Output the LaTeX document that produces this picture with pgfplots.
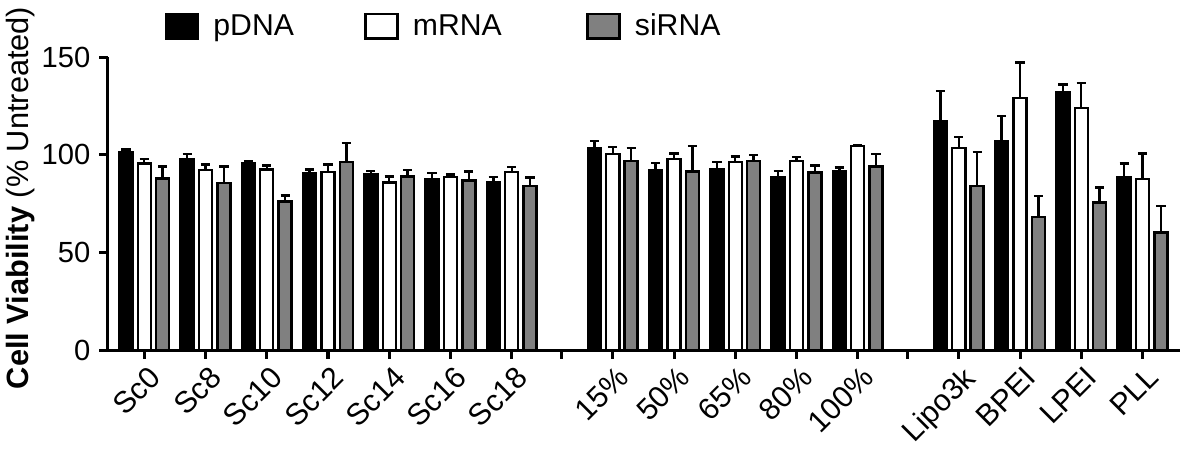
\documentclass[border=0pt]{standalone}
\usepackage{fontspec}
\setmainfont{Liberation Sans}
\usepackage{pgfplots}
\usepackage{pgfplotstable}
\pgfplotsset{compat=1.18}

\definecolor{sigray}{RGB}{128,128,128}

% x: category position, y: mean viability, e: error (SD, up only)
\pgfplotstableread{
x     y      e
0     101.3  1.4
1     97.9   2.7
2     95.7   1.3
3     90.7   1.9
4     90.0   1.9
5     87.8   2.9
6     86.1   2.7
7.65  103.5  3.6
8.65  92.2   3.6
9.65  92.6   3.9
10.65 88.8   2.9
11.65 91.5   2.1
13.3  117.2  15.4
14.3  106.9  12.9
15.3  131.8  4.2
16.3  88.5   7.0
}\pdna
\pgfplotstableread{
x     y      e
0     95.5   2.5
1     92.2   2.8
2     92.6   2.0
3     91.2   3.8
4     85.9   3.1
5     88.8   1.2
6     91.4   2.4
7.65  100.6  3.3
8.65  97.9   2.9
9.65  96.3   2.8
10.65 96.9   2.0
11.65 104.4  0.5
13.3  103.4  5.6
14.3  129.2  18.0
15.3  123.9  12.8
16.3  87.8   13.0
}\mrna
\pgfplotstableread{
x     y      e
0     88.0   6.1
1     85.6   8.5
2     76.1   3.1
3     96.3   9.8
4     89.0   3.2
5     86.9   4.6
6     84.2   4.3
7.65  97.0   6.5
8.65  91.5   12.9
9.65  97.0   2.9
10.65 91.0   3.6
11.65 94.1   6.3
13.3  84.0   17.6
14.3  68.3   10.8
15.3  75.6   7.7
16.3  60.4   13.5
}\sirna

\begin{document}
\begin{tikzpicture}
\begin{axis}[
    ybar,
    scale only axis,
    width=533.5pt, height=146pt,
    xmin=-0.6, xmax=16.92,
    ymin=0, ymax=150,
    ytick={0,50,100,150},
    xtick={0,1,2,3,4,5,6,7.65,8.65,9.65,10.65,11.65,13.3,14.3,15.3,16.3},
    xticklabels={Sc0,Sc8,Sc10,Sc12,Sc14,Sc16,Sc18,15\%,50\%,65\%,80\%,100\%,Lipo3k,BPEI,LPEI,PLL},
    extra x ticks={6.82,12.47},
    extra x tick labels={},
    axis x line*=bottom,
    axis y line*=left,
    axis line style={line width=1.5pt},
    tick style={line width=1.5pt, black},
    tick align=outside,
    major tick length=4pt,
    /pgf/number format/assume math mode=true,
    yticklabel style={font=\fontsize{14.5}{17}\selectfont, xshift=-1pt},
    xticklabel style={font=\fontsize{15}{17}\selectfont, rotate=45, anchor=north east, inner sep=1pt, yshift=-2pt},
    ylabel={{\bfseries Cell Viability} (\% Untreated)},
    ylabel style={font=\fontsize{15.3}{18}\selectfont, at={(axis description cs:-0.0806,0.52)}, anchor=center},
    bar width=0.213,
    legend columns=3,
    legend style={
        at={(axis description cs:0.053,1.105)}, anchor=west,
        draw=none, fill=none, inner sep=0pt,
        font=\fontsize{15}{18}\selectfont,
        /tikz/every odd column/.append style={column sep=5pt},
        /tikz/column 2/.style={column sep=33pt},
        /tikz/column 4/.style={column sep=40pt},
    },
    legend image code/.code={
        \draw[#1, line width=1.2pt] (0pt,-6.2pt) rectangle (16pt,6.2pt);
    },
    error bars/y dir=plus,
    error bars/y explicit,
    error bars/error bar style={line width=1.2pt, black},
    error bars/error mark options={rotate=90, mark size=2.3pt, line width=1.2pt, black},
]
\addplot[bar shift=-0.3, fill=black, draw=black, line width=1.2pt]
    table[x=x, y=y, y error=e] {\pdna};
\addplot[bar shift=0, fill=white, draw=black, line width=1.2pt]
    table[x=x, y=y, y error=e] {\mrna};
\addplot[bar shift=0.3, fill=sigray, draw=black, line width=1.2pt]
    table[x=x, y=y, y error=e] {\sirna};
\legend{pDNA, mRNA, siRNA}
\end{axis}
\end{tikzpicture}
\end{document}
